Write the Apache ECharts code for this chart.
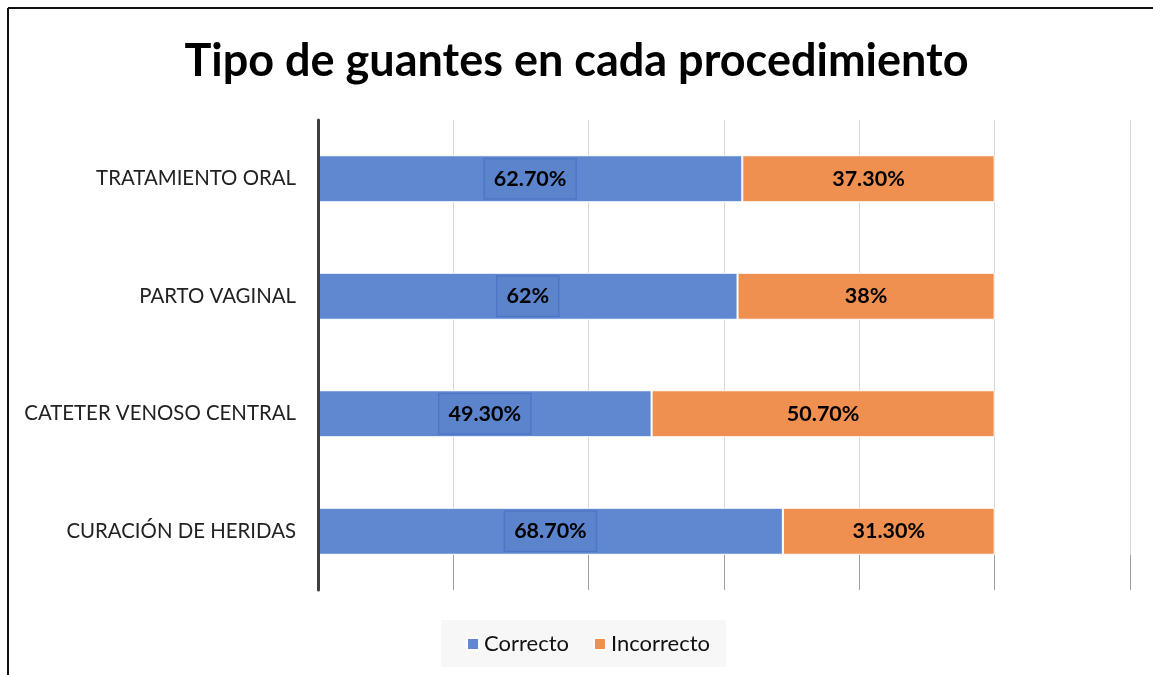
<!DOCTYPE html>
<html>
<head>
<meta charset="utf-8">
<script src="https://cdn.jsdelivr.net/npm/echarts@6/dist/echarts.min.js"></script>
<style>html,body{margin:0;padding:0;background:#fff}#c{width:1153px;height:675px}</style>
</head>
<body>
<div id="c"></div>
<script>
const categories = ["TRATAMIENTO ORAL", "PARTO VAGINAL", "CATETER VENOSO CENTRAL", "CURACIÓN DE HERIDAS"];
const correcto = [62.7, 62, 49.3, 68.7];
const incorrecto = [37.3, 38, 50.7, 31.3];
const correctoLabels = ["62.70%", "62%", "49.30%", "68.70%"];
const incorrectoLabels = ["37.30%", "38%", "50.70%", "31.30%"];
const FONT = 'Lato';

const chart = echarts.init(document.getElementById('c'));
chart.setOption({
  animation: false,
  backgroundColor: '#fff',
  textStyle: { fontFamily: FONT },
  title: {
    text: 'Tipo de guantes en cada procedimiento',
    left: 'center', top: 34,
    textStyle: { fontFamily: FONT, fontSize: 45, fontWeight: 'bold', color: '#000' }
  },
  graphic: [
    { type: 'line', shape: { x1: 8, y1: 8, x2: 1153, y2: 8 }, style: { stroke: '#111', lineWidth: 2 } },
    { type: 'line', shape: { x1: 8, y1: 8, x2: 8, y2: 675 }, style: { stroke: '#111', lineWidth: 2 } }
  ],
  legend: {
    bottom: 8, left: 441,
    itemWidth: 12, itemHeight: 12, itemGap: 24,
    icon: 'rect',
    backgroundColor: '#f7f7f7',
    padding: [13, 16, 12, 25],
    textStyle: { fontFamily: FONT, fontSize: 22, color: '#111' },
    data: ['Correcto', 'Incorrecto']
  },
  grid: { left: 318, right: 23, top: 120, bottom: 85, containLabel: false },
  xAxis: {
    type: 'value', min: 0, max: 120, interval: 20,
    axisLabel: { show: false },
    axisLine: { show: false },
    axisTick: { show: true, inside: true, length: 35, lineStyle: { color: '#a0a0a0' } },
    splitLine: { show: true, lineStyle: { color: '#d6d6d6', width: 1 } }
  },
  yAxis: {
    type: 'category', data: categories, inverse: true, z: 5,
    axisLine: { show: true, lineStyle: { color: '#404040', width: 3 } },
    axisTick: { show: false },
    axisLabel: { fontFamily: FONT, fontSize: 20.4, color: '#222', margin: 22 }
  },
  series: [
    {
      name: 'Correcto', type: 'bar', stack: 'total', barWidth: '40%',
      data: correcto,
      itemStyle: { color: '#5f88d0', borderColor: '#fff', borderWidth: 1 },
      label: {
        show: true, position: 'inside',
        formatter: p => correctoLabels[p.dataIndex],
        fontFamily: FONT, fontSize: 21.5, fontWeight: 'bold', color: '#000',
        borderColor: '#4d77c6', borderWidth: 1.5, backgroundColor: '#5b84cd',
        padding: [9, 9, 8, 9]
      }
    },
    {
      name: 'Incorrecto', type: 'bar', stack: 'total', barWidth: '40%',
      data: incorrecto,
      itemStyle: { color: '#f09050', borderColor: '#fff', borderWidth: 1 },
      label: {
        show: true, position: 'inside',
        formatter: p => incorrectoLabels[p.dataIndex],
        fontFamily: FONT, fontSize: 21.5, fontWeight: 'bold', color: '#000'
      }
    }
  ]
});
</script>
</body>
</html>
